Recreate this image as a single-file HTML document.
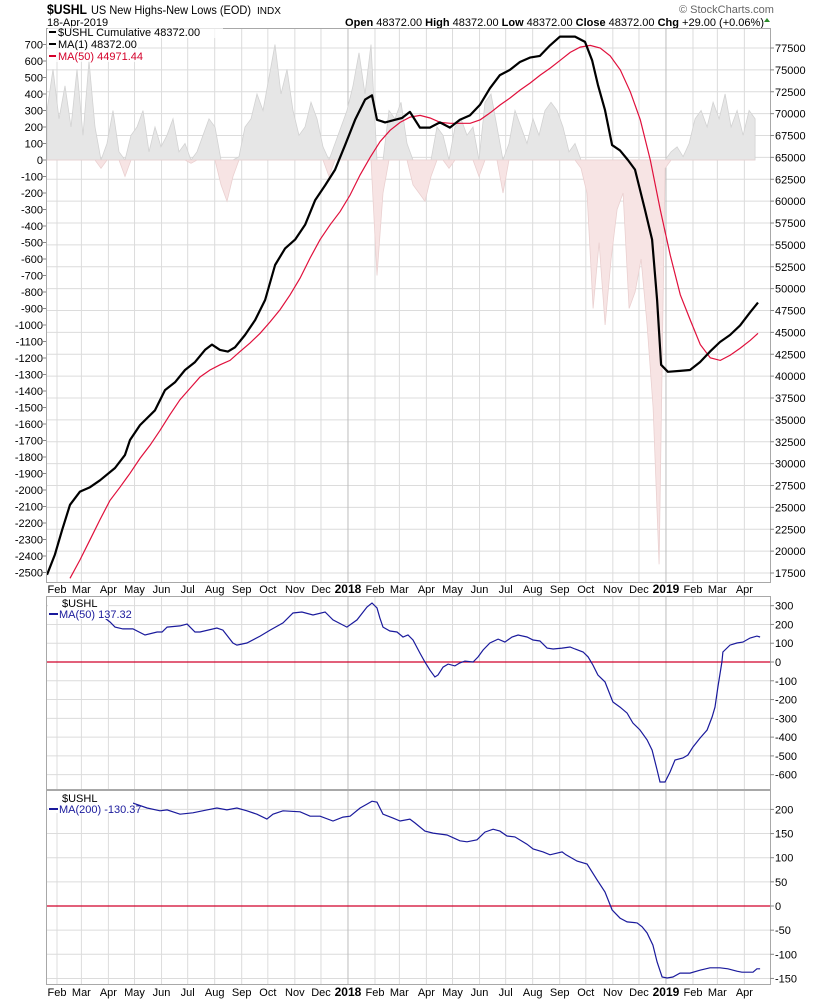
<!DOCTYPE html>
<html><head><meta charset="utf-8">
<style>
html,body{margin:0;padding:0;background:#fff;}
body{width:820px;height:1000px;overflow:hidden;font-family:"Liberation Sans",sans-serif;}
svg text{font-family:"Liberation Sans",sans-serif;}
</style></head>
<body>
<svg id="chart" width="820" height="1000" viewBox="0 0 820 1000" xmlns="http://www.w3.org/2000/svg">
  <text x="47" y="14" font-size="14" font-weight="bold" fill="#000" textLength="40" lengthAdjust="spacingAndGlyphs">$USHL</text>
  <text x="91" y="14" font-size="12" fill="#000" textLength="160" lengthAdjust="spacingAndGlyphs">US New Highs-New Lows (EOD)</text>
  <text x="257" y="14" font-size="10" fill="#000">INDX</text>
  <text x="47" y="26" font-size="11" fill="#000">18-Apr-2019</text>
  <text x="679" y="13" font-size="11" fill="#666">© StockCharts.com</text>
  <text x="764" y="26" font-size="11" text-anchor="end" fill="#000"><tspan font-weight="bold">Open</tspan> 48372.00  <tspan font-weight="bold">High</tspan> 48372.00  <tspan font-weight="bold">Low</tspan> 48372.00  <tspan font-weight="bold">Close</tspan> 48372.00  <tspan font-weight="bold">Chg</tspan> +29.00 (+0.06%)</text>
  <polygon points="764,22 770,22 767,18" fill="#2a8a2a"/>
  <g id="g1"></g><g id="g2"></g><g id="g3"></g>
</svg>
<script>
// ---- data (time in months since 1-Feb-2017) ----
const dailyStartMonth = -0.342;
const dailyStepMonth = 0.2279;
const dailyValues = [300,550,250,450,200,550,150,600,200,-50,
100,300,50,-100,150,200,300,50,200,80,
150,250,50,100,-20,50,150,250,200,-150,
-250,-100,20,200,250,400,300,500,700,400,
550,300,150,200,350,250,80,-100,100,200,
300,450,650,400,700,-700,-200,300,250,350,
100,-150,-200,-250,-100,200,150,-50,200,250,
150,200,-100,350,400,200,-200,100,300,200,
100,250,150,300,350,300,200,50,100,-50,
-200,-900,-500,-1000,-600,-300,-200,-900,-800,-600,
-1000,-1500,-2450,-50,50,80,20,100,250,300,
200,350,250,400,200,300,150,300,250];

const cumTimes = [-0.34,-0.04,0.23,0.53,0.91,1.29,1.67,2.24,2.62,2.81,3.19,3.76,4.14,4.52,4.90,5.28,5.66,5.92,6.23,6.53,6.80,7.18,7.56,7.94,8.32,8.70,9.08,9.46,9.84,10.22,10.60,10.98,11.36,11.74,12.00,12.19,12.50,12.87,13.14,13.44,13.82,14.20,14.58,14.96,15.34,15.72,16.10,16.48,16.86,17.24,17.62,18.00,18.38,18.76,19.14,19.71,20.09,20.36,20.58,20.85,21.12,21.42,21.72,21.99,22.37,22.64,22.83,22.98,23.24,23.70,24.08,24.46,24.84,25.22,25.60,25.98,26.36,26.66];
const cumValues = [17300,19600,22400,25300,26800,27300,28100,29500,31000,32700,34400,36100,38400,39300,40700,41600,43000,43600,43000,42800,43300,44700,46400,48700,52700,54600,55600,57300,60100,61800,63600,66400,69300,71600,72100,69300,69000,69300,69500,70200,68400,68400,69000,68400,69300,69800,71000,72900,74400,75000,75900,76400,76600,77800,78800,78800,78200,76100,73300,70400,66400,65800,64700,63600,59000,55600,48700,41300,40500,40600,40700,41600,42800,43900,44700,45800,47300,48400];

const ma50Times = [0.53,0.91,1.29,1.67,2.05,2.43,2.81,3.19,3.57,3.95,4.33,4.71,5.09,5.47,5.85,6.23,6.61,6.99,7.37,7.75,8.13,8.51,8.89,9.27,9.65,10.03,10.41,10.79,11.17,11.55,11.93,12.31,12.69,13.07,13.45,13.83,14.21,14.59,14.97,15.35,15.73,16.11,16.49,16.87,17.25,17.63,18.01,18.39,18.77,19.15,19.53,19.91,20.29,20.67,21.05,21.43,21.81,22.19,22.57,22.95,23.33,23.71,24.09,24.47,24.85,25.23,25.61,25.99,26.37,26.66];
const ma50Values = [16900,19000,21300,23600,25800,27300,28900,30600,32100,33800,35600,37300,38600,39900,40700,41300,41800,42800,43800,44900,46200,47600,49300,51200,53500,55600,57300,58800,60700,63000,65000,66800,68100,69000,69600,69800,69500,69000,68900,68900,68900,69300,70100,71000,71800,72700,73500,74400,75200,76100,77000,77600,77800,77500,76600,75000,72500,69300,64700,59000,53800,49300,46400,43600,42100,41800,42400,43200,44100,44900];

const p2Times = [1.56,2.05,2.24,2.54,2.92,3.38,3.84,4.03,4.22,4.71,4.98,5.28,5.47,6.11,6.34,6.72,6.87,7.25,7.75,8.13,8.62,9.00,9.34,9.76,10.22,10.52,11.05,11.43,11.81,12.00,12.19,12.30,12.42,12.68,12.95,13.18,13.37,13.56,13.82,14.01,14.20,14.39,14.51,14.70,14.89,15.15,15.34,15.53,15.84,16.03,16.22,16.48,16.79,17.05,17.32,17.55,17.89,18.12,18.38,18.65,18.88,19.22,19.52,19.71,20.02,20.21,20.39,20.58,20.85,21.15,21.42,21.69,21.91,22.18,22.45,22.64,22.83,22.94,23.13,23.32,23.51,23.81,24.00,24.19,24.46,24.73,24.92,25.03,25.14,25.29,25.33,25.60,25.86,26.09,26.36,26.62,26.74];
const p2Values = [266,213,186,176,176,144,160,160,186,192,202,160,160,181,170,101,90,101,138,170,208,261,266,250,266,224,186,224,293,314,288,234,186,165,160,133,144,117,48,0,-43,-80,-69,-27,-11,-21,-5,5,0,27,64,101,122,106,133,144,133,117,112,74,69,74,80,69,53,27,-16,-69,-106,-213,-240,-272,-325,-362,-415,-469,-575,-639,-639,-586,-522,-511,-495,-453,-405,-362,-293,-240,-133,0,53,90,101,106,128,138,133];

const p3Times = [1.56,2.05,2.51,2.92,3.46,3.95,4.22,4.71,5.20,5.73,6.11,6.49,6.87,7.25,7.63,8.01,8.24,8.62,9.27,9.65,10.03,10.52,10.90,11.17,11.55,11.81,12.00,12.19,12.42,12.80,13.07,13.44,13.63,14.01,14.32,14.85,15.34,15.61,15.99,16.29,16.60,16.86,17.13,17.43,17.89,18.12,18.50,18.76,19.22,19.37,19.79,20.17,20.55,20.85,21.12,21.42,21.69,22.07,22.26,22.45,22.67,22.83,23.02,23.21,23.43,23.70,24.08,24.46,24.84,25.22,25.52,25.86,26.05,26.47,26.62,26.74];
const p3Values = [221,217,217,213,203,197,199,190,193,199,203,199,203,197,190,180,190,197,195,186,186,176,184,186,203,211,217,215,190,182,176,180,172,155,151,147,135,133,137,153,159,155,145,143,128,118,112,106,112,106,93,87,54,29,-8,-25,-33,-35,-43,-56,-81,-116,-147,-149,-147,-139,-139,-133,-128,-128,-130,-135,-137,-137,-130,-130];

const leftTicks1 = [700,600,500,400,300,200,100,0,-100,-200,-300,-400,-500,-600,-700,-800,-900,-1000,-1100,-1200,-1300,-1400,-1500,-1600,-1700,-1800,-1900,-2000,-2100,-2200,-2300,-2400,-2500];
const rightTicks1 = [77500,75000,72500,70000,67500,65000,62500,60000,57500,55000,52500,50000,47500,45000,42500,40000,37500,35000,32500,30000,27500,25000,22500,20000,17500];
const ticks2 = [300,200,100,0,-100,-200,-300,-400,-500,-600];
const ticks3 = [200,150,100,50,0,-50,-100,-150];
const monthLabels = ["Feb","Mar","Apr","May","Jun","Jul","Aug","Sep","Oct","Nov","Dec","2018","Feb","Mar","Apr","May","Jun","Jul","Aug","Sep","Oct","Nov","Dec","2019","Feb","Mar","Apr"];

// ---- scales ----
const X0 = 46, X1 = 770;
const xT = t => 56 + t * 26.33;
const monthX = i => { const d = (Date.UTC(2017, 1 + i, 1) - Date.UTC(2017, 1, 1)) / 86400000; return 57 + d * 0.8712; };
const yCum = v => 48 + (77500 - v) / 2500 * 21.875;
const yDaily = v => 160 - v * 0.165;
const y2 = v => 662 - v * 0.1878;
const y3 = v => 906 - v * 0.483;

const NS = "http://www.w3.org/2000/svg";
function mk(parent, tag, attrs, text) {
  const e = document.createElementNS(NS, tag);
  for (const k in attrs) e.setAttribute(k, attrs[k]);
  if (text !== undefined) e.textContent = text;
  parent.appendChild(e);
  return e;
}
function pathOf(ts, vs, ys) {
  const n = Math.min(ts.length, vs.length);
  let d = "";
  for (let i = 0; i < n; i++) d += (i ? "L" : "M") + xT(ts[i]).toFixed(1) + "," + ys(vs[i]).toFixed(1);
  return d;
}

function panel(g, top, bot, hTicks, yF, labelY, name) {
  const bg = mk(g, "rect", {x: X0, y: top, width: X1 - X0, height: bot - top, fill: "#fff", stroke: "none"});
  
  
  for (const v of hTicks) {
    const y = yF(v);
    if (y < top || y > bot) continue;
    const l = mk(g, "line", {x1: X0, x2: X1, y1: y, y2: y, stroke: "#dcdcdc", "stroke-width": 1});
    
    
  }
  for (let i = 0; i < monthLabels.length; i++) {
    const x = monthX(i);
    const yr = monthLabels[i].length === 4;
    const l = mk(g, "line", {x1: x, x2: x, y1: top, y2: bot, stroke: yr ? "#bdbdbd" : "#dcdcdc", "stroke-width": 1});
    
    
  }
  if (labelY) {
    for (let i = 0; i < monthLabels.length; i++) {
      const yr = monthLabels[i].length === 4;
      const t = mk(g, "text", {x: monthX(i), y: labelY, "font-size": yr ? 12 : 11, "font-weight": yr ? "bold" : "normal", "text-anchor": "middle", fill: "#000"}, monthLabels[i]);
      
      
    }
  }
}
function frame(g, top, bot, name) {
  const r = mk(g, "rect", {x: X0 + 0.5, y: top + 0.5, width: X1 - X0, height: bot - top, fill: "none", stroke: "#a8a8a8", "stroke-width": 1});
  
  
}
function rightAxis(g, ticks, yF, name) {
  for (const v of ticks) {
    const y = yF(v);
    const tk = mk(g, "line", {x1: X1, x2: X1 + 4, y1: y, y2: y, stroke: "#888"});
    
    
    const t = mk(g, "text", {x: X1 + 5, y: y + 4, "font-size": 11, fill: "#000"}, String(v));
    
    
  }
}

// ---- Panel 1 ----
const g1 = document.getElementById("g1");
panel(g1, 28, 582, rightTicks1, yCum, 593, "main");
{
  const n = dailyValues.length;
  const pts = [];
  for (let i = 0; i < n; i++) pts.push([xT(dailyStartMonth + i * dailyStepMonth), dailyValues[i]]);
  let dp = "M" + pts[0][0] + "," + yDaily(0);
  let dn = dp;
  for (const [x, v] of pts) {
    dp += "L" + x.toFixed(1) + "," + yDaily(Math.max(v, 0)).toFixed(1);
    dn += "L" + x.toFixed(1) + "," + yDaily(Math.min(v, 0)).toFixed(1);
  }
  const lx = pts[n - 1][0];
  dp += "L" + lx + "," + yDaily(0) + "Z";
  dn += "L" + lx + "," + yDaily(0) + "Z";
  const a1 = mk(g1, "path", {d: dp, fill: "#e6e6e6", stroke: "#d2d2d2", "stroke-width": 0.8});
  
  
  const a2 = mk(g1, "path", {d: dn, fill: "#f7e4e4", stroke: "#ead0d0", "stroke-width": 0.8});
  
  
}
const ma50Line = mk(g1, "path", {d: pathOf(ma50Times, ma50Values, yCum), fill: "none", stroke: "#e0103c", "stroke-width": 1.2});


const cumLine = mk(g1, "path", {d: pathOf(cumTimes, cumValues, yCum), fill: "none", stroke: "#000", "stroke-width": 2.2, "stroke-linejoin": "round"});


frame(g1, 28, 582, "main");
rightAxis(g1, rightTicks1, yCum, "right-y-axis");
for (const v of leftTicks1) {
  const y = yDaily(v);
  const tk = mk(g1, "line", {x1: X0 - 3, x2: X0, y1: y, y2: y, stroke: "#888"});
  
  
  const t = mk(g1, "text", {x: X0 - 3, y: y + 4, "font-size": 11, "text-anchor": "end", fill: "#000"}, String(v));
  
  
}
{
  const items = [["$USHL Cumulative 48372.00", "#000", 36], ["MA(1) 48372.00", "#000", 48], ["MA(50) 44971.44", "#d4002a", 60]];
  for (const [txt, col, y] of items) {
    const bg = mk(g1, "rect", {x: 48, y: y - 10, width: txt.length > 20 ? 175 : 90, height: 12, fill: "#fff", opacity: 0.7});
    
    
    const sw = mk(g1, "line", {x1: 49, x2: 56, y1: y - 4, y2: y - 4, stroke: col, "stroke-width": 2});
    
    
    const t = mk(g1, "text", {x: 58, y: y, "font-size": 11, fill: col, "font-family": "DejaVu Sans, sans-serif"}, txt);
    
    
  }
}

// ---- Panel 2 ----
const g2 = document.getElementById("g2");
panel(g2, 596, 789, ticks2, y2, null, "ma50-panel");
const z2 = mk(g2, "line", {x1: X0, x2: X1, y1: y2(0), y2: y2(0), stroke: "#d0002a", "stroke-width": 1.2});


const l2 = mk(g2, "path", {d: pathOf(p2Times, p2Values, y2), fill: "none", stroke: "#1a1a9c", "stroke-width": 1.2});


frame(g2, 596, 789, "ma50-panel");
rightAxis(g2, ticks2, y2, "ma50-panel-y-axis");
{
  const bg = mk(g2, "rect", {x: 48, y: 597, width: 60, height: 22, fill: "#fff"});
  
  
  const t1 = mk(g2, "text", {x: 62, y: 607, "font-size": 11, fill: "#000"}, "$USHL");
  
  
  const sw = mk(g2, "line", {x1: 49, x2: 58, y1: 614, y2: 614, stroke: "#1a1a9c", "stroke-width": 2});
  
  
  const t2 = mk(g2, "text", {x: 59, y: 618, "font-size": 11, fill: "#1a1a9c"}, "MA(50) 137.32");
  
  
}

// ---- Panel 3 ----
const g3 = document.getElementById("g3");
panel(g3, 790, 984, ticks3, y3, 996, "ma200-panel");
const z3 = mk(g3, "line", {x1: X0, x2: X1, y1: y3(0), y2: y3(0), stroke: "#d0002a", "stroke-width": 1.2});


const l3 = mk(g3, "path", {d: pathOf(p3Times, p3Values, y3), fill: "none", stroke: "#1a1a9c", "stroke-width": 1.2});


frame(g3, 790, 984, "ma200-panel");
rightAxis(g3, ticks3, y3, "ma200-panel-y-axis");
{
  const bg = mk(g3, "rect", {x: 48, y: 791, width: 85, height: 22, fill: "#fff"});
  
  
  const t1 = mk(g3, "text", {x: 62, y: 802, "font-size": 11, fill: "#000"}, "$USHL");
  
  
  const sw = mk(g3, "line", {x1: 49, x2: 58, y1: 809, y2: 809, stroke: "#1a1a9c", "stroke-width": 2});
  
  
  const t2 = mk(g3, "text", {x: 59, y: 813, "font-size": 11, fill: "#1a1a9c"}, "MA(200) -130.37");
  
  
}
</script>
</body></html>
